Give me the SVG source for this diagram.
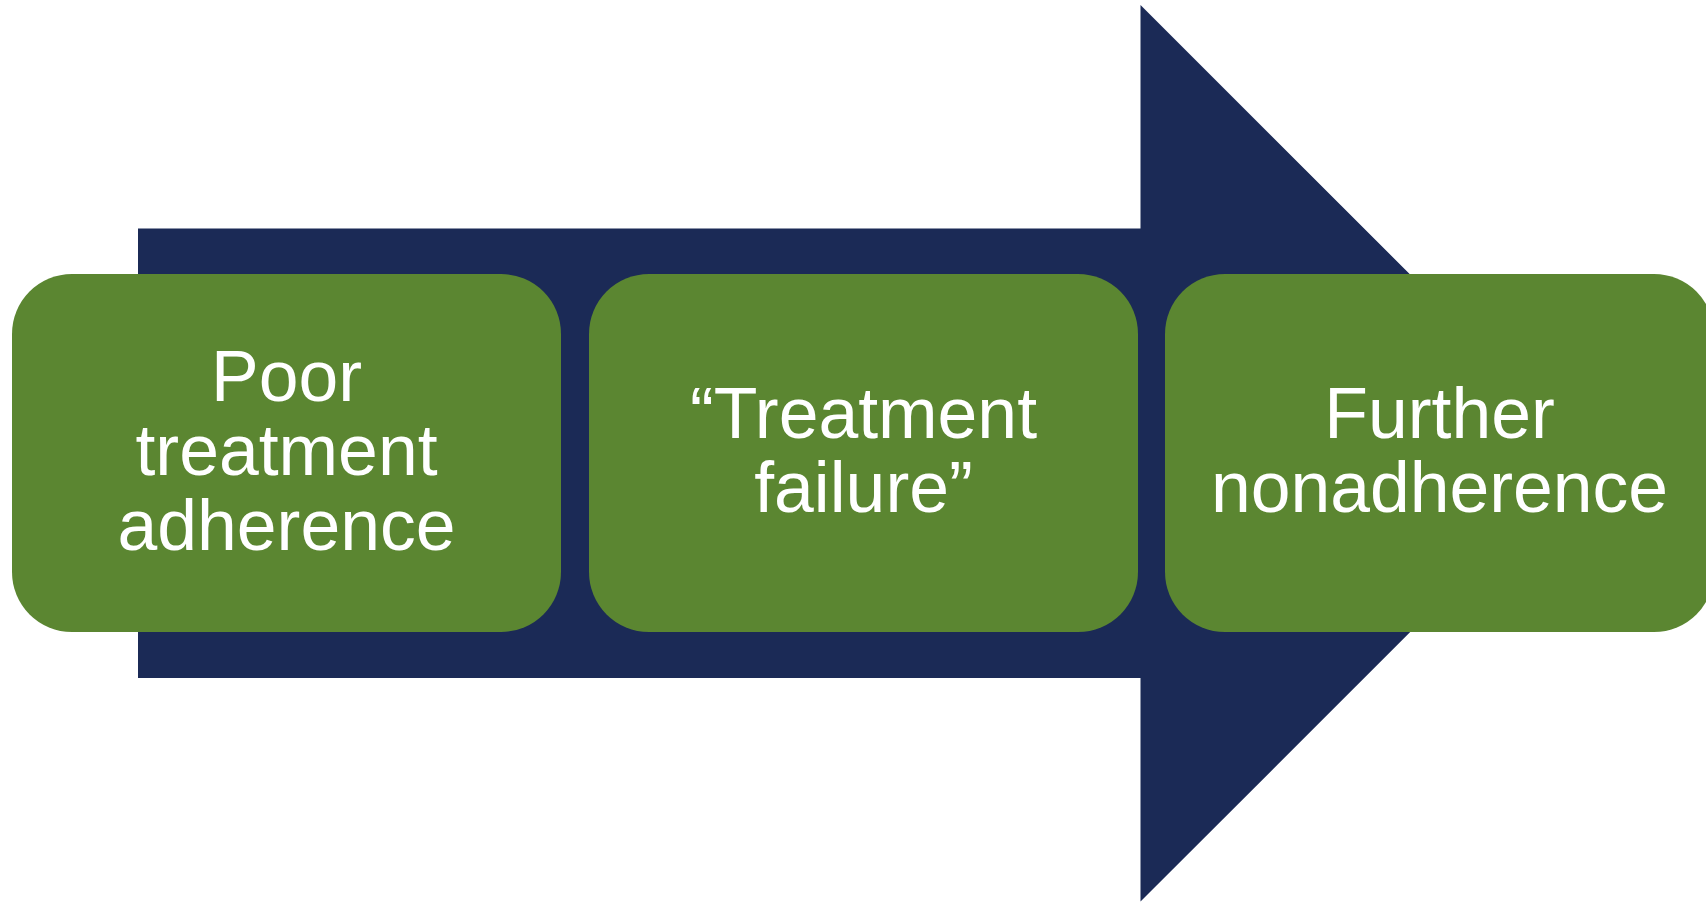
<svg xmlns="http://www.w3.org/2000/svg" width="1706" height="902" viewBox="0 0 1706 902">
  <style>
    .box { fill: #5B8631; }
    .arrow { fill: #1B2A56; }
    .label { font-family: "Liberation Sans", Arial, sans-serif; font-size: 71.5px; fill: #FFFFFF; text-anchor: middle; }
  </style>
  <rect width="1706" height="902" fill="#FFFFFF"/>

  <!-- Large block arrow running behind the three steps -->
  <g id="connectors">
    <polygon class="arrow" points="138,228.5 1140.5,228.5 1140.5,5 1589,453.3 1140.5,901.6 1140.5,678 138,678"/>
  </g>

  <g id="node-poor-adherence">
    <rect class="box" x="12" y="274" width="549" height="358" rx="60" ry="60"/>
    <text class="label" x="286.5" y="400.5">Poor</text>
    <text class="label" x="286.5" y="475">treatment</text>
    <text class="label" x="286.5" y="549.5">adherence</text>
  </g>

  <g id="node-treatment-failure">
    <rect class="box" x="589" y="274" width="549" height="358" rx="60" ry="60"/>
    <text class="label" x="863.5" y="437.5">“Treatment</text>
    <text class="label" x="863.5" y="511.5">failure”</text>
  </g>

  <g id="node-further-nonadherence">
    <rect class="box" x="1165" y="274" width="549" height="358" rx="60" ry="60"/>
    <text class="label" x="1439.5" y="437.5">Further</text>
    <text class="label" x="1439.5" y="511.5">nonadherence</text>
  </g>
</svg>
